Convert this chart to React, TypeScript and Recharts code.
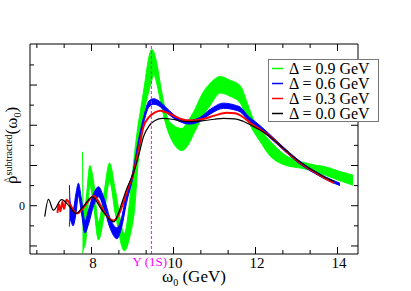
import React from 'react';
import { ComposedChart, Area, Line, XAxis, YAxis, ReferenceLine, Legend } from 'recharts';

const FONT = "'Liberation Serif', 'DejaVu Serif', serif";

// axis ticks
const xTicks = [6.667, 7.333, 8, 8.667, 9.333, 10, 10.667, 11.333, 12, 12.667, 13.333, 14];
const xMajor = [8, 10, 12, 14];
const yTicks = [-1, -0.5, 0, 0.5, 1, 1.5, 2, 2.5, 3, 3.5];
const yMajor = [-1, 0, 1, 2, 3];
const yLabels = [0];

const upsilonMass = 9.46;

// Δ = 0.9 GeV (band)
const greenX = [7.78, 7.8, 7.86, 7.96, 8.05, 8.17, 8.3, 8.44, 8.58, 8.8, 8.95, 9.05, 9.15, 9.2, 9.3, 9.4, 9.47, 9.52, 9.6, 9.7, 9.85, 10.0, 10.2, 10.35, 10.5, 10.7, 10.9, 11.14, 11.38, 11.63, 11.8, 11.95, 12.11, 12.32, 12.72, 13.13, 13.45, 13.7, 14.06, 14.38];
const greenLow = [-1.18, -1.1, -0.9, 0.5, 0.0, -0.85, -0.3, 0.6, -0.2, -1.12, -0.7, -0.1, 1.2, 1.5, 2.4, 2.85, 3.12, 3.25, 3.0, 2.5, 1.9, 1.55, 1.37, 1.5, 1.8, 2.2, 2.5, 2.8, 2.72, 2.55, 2.15, 1.85, 1.6, 1.28, 1.01, 0.93, 0.85, 0.76, 0.62, 0.51];
const greenHigh = [1.34, -0.1, 0.1, 1.0, 0.6, -0.4, 0.3, 1.06, 0.4, -0.69, 0.3, 1.3, 2.1, 2.4, 3.05, 3.7, 3.89, 3.82, 3.5, 2.9, 2.2, 2.0, 1.92, 2.1, 2.35, 2.78, 3.05, 3.21, 3.12, 2.98, 2.55, 2.15, 1.9, 1.65, 1.26, 1.09, 1.01, 0.97, 0.85, 0.76];

// Δ = 0.6 GeV (band)
const blueX = [7.46, 7.48, 7.55, 7.62, 7.68, 7.75, 7.84, 7.93, 8.05, 8.17, 8.3, 8.45, 8.62, 8.72, 8.85, 9.02, 9.15, 9.27, 9.4, 9.52, 9.65, 9.8, 10.0, 10.2, 10.4, 10.65, 10.9, 11.22, 11.5, 11.63, 11.83, 12.03, 12.32, 12.72, 13.13, 13.45, 13.7, 14.06];
const blueLow = [-0.52, -0.35, -0.5, -0.2, 0.25, -0.15, -0.68, -0.45, 0.0, 0.22, -0.05, -0.55, -0.82, -0.6, 0.05, 0.75, 1.5, 2.05, 2.45, 2.52, 2.48, 2.34, 2.18, 2.07, 2.03, 2.1, 2.28, 2.42, 2.38, 2.33, 2.12, 1.97, 1.72, 1.35, 1.0, 0.8, 0.66, 0.5];
const blueHigh = [0.51, 0.1, -0.1, 0.3, 0.56, 0.2, -0.38, -0.1, 0.3, 0.47, 0.2, -0.3, -0.55, -0.35, 0.3, 0.9, 1.65, 2.2, 2.6, 2.66, 2.6, 2.46, 2.27, 2.15, 2.12, 2.2, 2.4, 2.55, 2.5, 2.45, 2.22, 2.06, 1.8, 1.42, 1.07, 0.86, 0.72, 0.56];

// Δ = 0.3 GeV
const redX = [7.17, 7.2, 7.24, 7.29, 7.33, 7.39, 7.45, 7.55, 7.65, 7.8, 7.95, 8.06, 8.2, 8.35, 8.54, 8.65, 8.75, 8.87, 9.02, 9.15, 9.27, 9.4, 9.55, 9.68, 9.8, 10.0, 10.2, 10.41, 10.7, 11.0, 11.3, 11.5, 11.7, 11.91, 12.11, 12.32, 12.72, 13.13, 13.45, 13.7, 13.92];
const redY = [-0.18, 0.04, -0.14, 0.1, -0.08, 0.15, 0.08, -0.1, -0.19, -0.05, 0.15, 0.24, 0.05, -0.22, -0.37, -0.25, 0.0, 0.38, 0.8, 1.4, 1.97, 2.2, 2.32, 2.36, 2.33, 2.24, 2.15, 2.12, 2.15, 2.24, 2.31, 2.3, 2.2, 2.03, 1.9, 1.75, 1.38, 1.03, 0.83, 0.68, 0.56];

// Δ = 0.0 GeV
const blackX = [6.86, 6.95, 7.07, 7.27, 7.45, 7.62, 7.8, 8.02, 8.25, 8.55, 8.65, 8.75, 8.87, 9.02, 9.15, 9.27, 9.4, 9.55, 9.73, 9.97, 10.2, 10.41, 10.7, 11.0, 11.22, 11.5, 11.7, 11.91, 12.11, 12.32, 12.72, 13.13, 13.45, 13.7, 13.92];
const blackY = [-0.27, 0.16, -0.11, 0.15, 0.0, -0.19, -0.02, 0.22, -0.1, -0.4, -0.2, 0.1, 0.45, 0.8, 1.25, 1.72, 1.98, 2.12, 2.17, 2.15, 2.1, 2.09, 2.11, 2.15, 2.17, 2.16, 2.1, 1.99, 1.88, 1.74, 1.39, 1.05, 0.85, 0.7, 0.6];

const legendLabels = ['Δ = 0.9 GeV', 'Δ = 0.6 GeV', 'Δ = 0.3 GeV', 'Δ = 0.0 GeV'];
const legendColors = ['#00ff00', '#0000ff', '#ff0000', '#000000'];

const greenData = greenX.map((x, i) => ({ x, band: [greenLow[i], greenHigh[i]] }));
const blueData = blueX.map((x, i) => ({ x, band: [blueLow[i], blueHigh[i]] }));
const redData = redX.map((x, i) => ({ x, y: redY[i] }));
const blackData = blackX.map((x, i) => ({ x, y: blackY[i] }));

const isIn = (list: number[], v: number) => list.some((m) => Math.abs(m - v) < 1e-6);

const BottomTick = (props: any) => {
  const { x, y, payload } = props;
  const major = isIn(xMajor, payload.value);
  return (
    <g>
      <line x1={x} x2={x} y1={y} y2={y - (major ? 7 : 4)} stroke="#000" />
      {major && (
        <text x={x + 1.5} y={y + 14} textAnchor="middle" fontSize={15} style={{ fontFamily: FONT }} fill="#000">
          {payload.value}
        </text>
      )}
    </g>
  );
};

const TopTick = (props: any) => {
  const { x, y, payload } = props;
  const major = isIn(xMajor, payload.value);
  return <line x1={x} x2={x} y1={y} y2={y + (major ? 7 : 4)} stroke="#000" />;
};

const LeftTick = (props: any) => {
  const { x, y, payload } = props;
  const major = isIn(yMajor, payload.value);
  return (
    <g>
      <line x1={x} x2={x + (major ? 7 : 4)} y1={y} y2={y} stroke="#000" />
      {isIn(yLabels, payload.value) && (
        <text x={x - 5} y={y + 4} textAnchor="end" fontSize={12} style={{ fontFamily: FONT }} fill="#000">
          {payload.value}
        </text>
      )}
    </g>
  );
};

const RightTick = (props: any) => {
  const { x, y, payload } = props;
  const major = isIn(yMajor, payload.value);
  return <line x1={x} x2={x - (major ? 7 : 4)} y1={y} y2={y} stroke="#000" />;
};

const XTitle = () => (
  <text x={162} y={282} fontSize={17} style={{ fontFamily: FONT }} fill="#000">
    ω<tspan dy={4} fontSize={10}>0</tspan>
    <tspan dy={-4}> (GeV)</tspan>
  </text>
);

const YTitle = () => (
  <g>
    <text transform="rotate(-90, 17, 184)" x={17} y={184} fontSize={17} style={{ fontFamily: FONT }} fill="#000">
      ρ<tspan dy={-5} fontSize={10}>subtracted</tspan>
      <tspan dy={5}>(ω</tspan>
      <tspan dy={4} fontSize={10}>0</tspan>
      <tspan dy={-4}>)</tspan>
    </text>
    <text transform="rotate(-90, 17, 184)" x={18.5} y={178} fontSize={10} style={{ fontFamily: FONT }} fill="#000">
      ^
    </text>
  </g>
);

const UpsilonLabel = (props: any) => {
  const vb = props.viewBox || {};
  return (
    <text x={vb.x - 1.5} y={vb.y + vb.height + 12} textAnchor="middle" fontSize={13} style={{ fontFamily: FONT }} fill="#ff00ff">
      Υ (1S)
    </text>
  );
};

const LegendBox = () => (
  <svg width={111} height={63} style={{ display: 'block' }}>
    <rect x={0.5} y={0.5} width={110} height={62} fill="#fff" stroke="#777" />
    {legendLabels.map((label, i) => (
      <g key={label}>
        <line x1={4} x2={15} y1={9.5 + i * 15} y2={9.5 + i * 15} stroke={legendColors[i]} strokeWidth={1.5} />
        <text x={21} y={14.5 + i * 15} fontSize={16} style={{ fontFamily: FONT }} fill="#000">
          {label}
        </text>
      </g>
    ))}
  </svg>
);

export default function App() {
  return (
    <div style={{ position: 'absolute', left: 0, top: 0, width: 411, height: 291, background: '#fff' }}>
      <ComposedChart width={411} height={291} margin={{ top: 43, right: 52, bottom: 7, left: 0 }}>
        <XAxis
          xAxisId="bottom"
          type="number"
          dataKey="x"
          domain={[6.5, 14.5]}
          ticks={xTicks}
          interval={0}
          tickSize={0}
          tickMargin={0}
          tickLine={false}
          tick={<BottomTick />}
          axisLine={{ stroke: '#000' }}
          height={30}
          allowDataOverflow
          label={<XTitle />}
        />
        <XAxis
          xAxisId="top"
          orientation="top"
          type="number"
          dataKey="x"
          domain={[6.5, 14.5]}
          ticks={xTicks}
          interval={0}
          tickSize={0}
          tickMargin={0}
          tickLine={false}
          tick={<TopTick />}
          axisLine={{ stroke: '#000' }}
          height={1}
          allowDataOverflow
        />
        <YAxis
          yAxisId="left"
          type="number"
          domain={[-1.2, 4.02]}
          ticks={yTicks}
          interval={0}
          tickSize={0}
          tickMargin={0}
          tickLine={false}
          tick={<LeftTick />}
          axisLine={{ stroke: '#000' }}
          width={30}
          allowDataOverflow
          label={<YTitle />}
        />
        <YAxis
          yAxisId="right"
          orientation="right"
          type="number"
          domain={[-1.2, 4.02]}
          ticks={yTicks}
          interval={0}
          tickSize={0}
          tickMargin={0}
          tickLine={false}
          tick={<RightTick />}
          axisLine={{ stroke: '#000' }}
          width={1}
          allowDataOverflow
        />
        <Area
          xAxisId="bottom"
          yAxisId="left"
          data={greenData}
          dataKey="band"
          type="monotoneX"
          fill="#00ff00"
          fillOpacity={1}
          stroke="#00ff00"
          strokeWidth={1}
          dot={false}
          activeDot={false}
          isAnimationActive={false}
        />
        <Area
          xAxisId="bottom"
          yAxisId="left"
          data={blueData}
          dataKey="band"
          type="monotoneX"
          fill="#0000ff"
          fillOpacity={1}
          stroke="#0000ff"
          strokeWidth={1}
          dot={false}
          activeDot={false}
          isAnimationActive={false}
        />
        <Line
          xAxisId="bottom"
          yAxisId="left"
          data={redData}
          dataKey="y"
          type="monotoneX"
          stroke="#ff0000"
          strokeWidth={2}
          dot={false}
          activeDot={false}
          isAnimationActive={false}
        />
        <Line
          xAxisId="bottom"
          yAxisId="left"
          data={blackData}
          dataKey="y"
          type="monotoneX"
          stroke="#000"
          strokeWidth={1.2}
          dot={false}
          activeDot={false}
          isAnimationActive={false}
        />
        <ReferenceLine
          xAxisId="bottom"
          yAxisId="left"
          x={upsilonMass}
          stroke="#ff00ff"
          strokeDasharray="3 2"
          label={UpsilonLabel}
        />
        <Legend
          layout="vertical"
          align="center"
          verticalAlign="middle"
          content={<LegendBox />}
          wrapperStyle={{ left: 268, top: 59, width: 111, height: 63 }}
        />
      </ComposedChart>
    </div>
  );
}
